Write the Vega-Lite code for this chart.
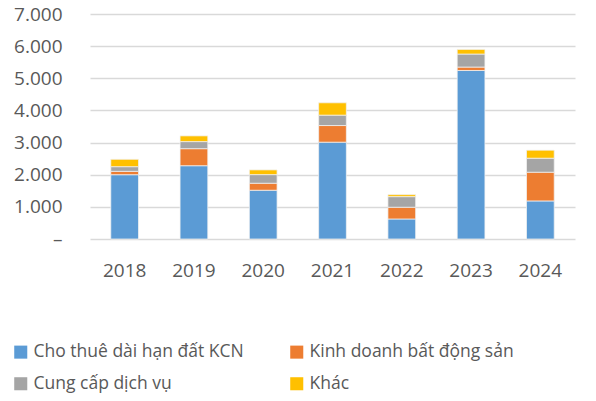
{
  "$schema": "https://vega.github.io/schema/vega-lite/v6.json",
  "autosize": "none",
  "width": 485,
  "height": 225,
  "padding": {"left": 90, "top": 14, "right": 21, "bottom": 162},
  "background": "white",
  "config": {
    "view": {"stroke": null},
    "font": "Open Sans"
  },
  "data": {
    "values": [
      {"year": "2018", "cat": "Cho thuê dài hạn đất KCN", "ord": 1, "value": 2000},
      {"year": "2018", "cat": "Kinh doanh bất động sản", "ord": 2, "value": 105},
      {"year": "2018", "cat": "Cung cấp dịch vụ", "ord": 3, "value": 145},
      {"year": "2018", "cat": "Khác", "ord": 4, "value": 230},
      {"year": "2019", "cat": "Cho thuê dài hạn đất KCN", "ord": 1, "value": 2280},
      {"year": "2019", "cat": "Kinh doanh bất động sản", "ord": 2, "value": 530},
      {"year": "2019", "cat": "Cung cấp dịch vụ", "ord": 3, "value": 220},
      {"year": "2019", "cat": "Khác", "ord": 4, "value": 178},
      {"year": "2020", "cat": "Cho thuê dài hạn đất KCN", "ord": 1, "value": 1517},
      {"year": "2020", "cat": "Kinh doanh bất động sản", "ord": 2, "value": 218},
      {"year": "2020", "cat": "Cung cấp dịch vụ", "ord": 3, "value": 268},
      {"year": "2020", "cat": "Khác", "ord": 4, "value": 147},
      {"year": "2021", "cat": "Cho thuê dài hạn đất KCN", "ord": 1, "value": 3012},
      {"year": "2021", "cat": "Kinh doanh bất động sản", "ord": 2, "value": 518},
      {"year": "2021", "cat": "Cung cấp dịch vụ", "ord": 3, "value": 323},
      {"year": "2021", "cat": "Khác", "ord": 4, "value": 384},
      {"year": "2022", "cat": "Cho thuê dài hạn đất KCN", "ord": 1, "value": 623},
      {"year": "2022", "cat": "Kinh doanh bất động sản", "ord": 2, "value": 365},
      {"year": "2022", "cat": "Cung cấp dịch vụ", "ord": 3, "value": 330},
      {"year": "2022", "cat": "Khác", "ord": 4, "value": 62},
      {"year": "2023", "cat": "Cho thuê dài hạn đất KCN", "ord": 1, "value": 5243},
      {"year": "2023", "cat": "Kinh doanh bất động sản", "ord": 2, "value": 106},
      {"year": "2023", "cat": "Cung cấp dịch vụ", "ord": 3, "value": 405},
      {"year": "2023", "cat": "Khác", "ord": 4, "value": 144},
      {"year": "2024", "cat": "Cho thuê dài hạn đất KCN", "ord": 1, "value": 1184},
      {"year": "2024", "cat": "Kinh doanh bất động sản", "ord": 2, "value": 894},
      {"year": "2024", "cat": "Cung cấp dịch vụ", "ord": 3, "value": 436},
      {"year": "2024", "cat": "Khác", "ord": 4, "value": 249}
    ]
  },
  "mark": {"type": "bar", "stroke": "#f2f2f2", "strokeWidth": 0.75},
  "encoding": {
    "x": {
      "field": "year",
      "type": "nominal",
      "scale": {"paddingInner": 0.6, "paddingOuter": 0.3},
      "axis": {
        "title": null,
        "labelAngle": 0,
        "ticks": false,
        "domain": false,
        "labelFontSize": 19,
        "labelColor": "#595959",
        "labelPadding": 22
      }
    },
    "y": {
      "field": "value",
      "type": "quantitative",
      "stack": "zero",
      "scale": {"domain": [0, 7000]},
      "axis": {
        "title": null,
        "values": [0, 1000, 2000, 3000, 4000, 5000, 6000, 7000],
        "labelExpr": "datum.value == 0 ? '–' : replace(format(datum.value, ','), ',', '.')",
        "ticks": false,
        "domain": false,
        "gridColor": "#d9d9d9",
        "gridWidth": 1.5,
        "labelFontSize": 19,
        "labelColor": "#595959",
        "labelPadding": 28
      }
    },
    "color": {
      "field": "cat",
      "type": "nominal",
      "scale": {
        "domain": ["Cho thuê dài hạn đất KCN", "Kinh doanh bất động sản", "Cung cấp dịch vụ", "Khác"],
        "range": ["#5B9BD5", "#ED7D31", "#A5A5A5", "#FFC000"]
      },
      "legend": {
        "title": null,
        "orient": "none",
        "legendX": -78,
        "legendY": 329,
        "direction": "horizontal",
        "columns": 2,
        "symbolType": "square",
        "symbolSize": 170,
        "symbolStrokeWidth": 0,
        "symbolOffset": 0,
        "labelFontSize": 17.5,
        "labelColor": "#595959",
        "labelLimit": 400,
        "labelOffset": 4,
        "columnPadding": 44,
        "rowPadding": 13
      }
    },
    "order": {"field": "ord", "type": "quantitative"}
  }
}
